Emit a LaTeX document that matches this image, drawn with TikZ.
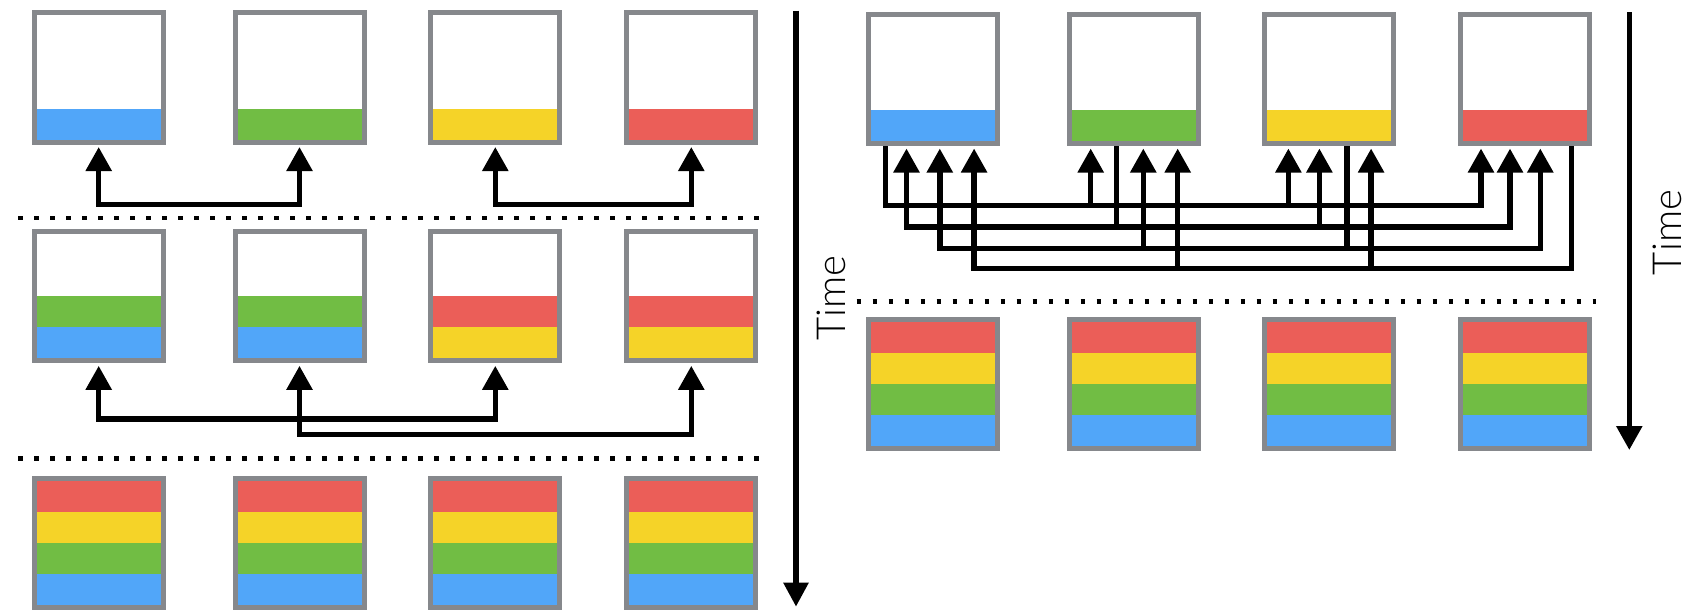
\documentclass[tikz,border=0pt]{standalone}
\usepackage{fontspec}
\usetikzlibrary{arrows.meta,calc}
\IfFontExistsTF{Lato Light}{\newfontfamily\labelfont{Lato Light}}{\newfontfamily\labelfont{Lato}}

\definecolor{boxgray}{HTML}{86888C}
\definecolor{sblue}{HTML}{51A6F9}
\definecolor{sgreen}{HTML}{71BD44}
\definecolor{syellow}{HTML}{F5D328}
\definecolor{sred}{HTML}{EB5E58}

\tikzset{
  bucket/.style={draw=boxgray, fill=white, line width=5pt, minimum width=129pt,
    minimum height=129pt, inner sep=0pt, outer sep=2.5pt},
  bus/.style={line width=5.5pt, draw=black},
  timeline/.style={line width=5.5pt, draw=black},
  dotline/.style={line width=4.5pt, draw=black, dash pattern=on 4.5pt off 11.5pt},
  timelabel/.style={rotate=90, inner sep=0pt, font=\labelfont\fontsize{40}{40}\selectfont},
}

% fill a bucket with stripes listed from the bottom up
\newcommand\fillbucket[2]{%
  \foreach \c [count=\k from 0] in {#2}{%
    \fill[\c] ($(#1.south west)+(5,-5-31*\k)$) rectangle ($(#1.south east)+(-5,-36-31*\k)$);
  }%
}
% a port on the bottom edge of a bucket
\newcommand\port[3]{\coordinate (#1) at ($(#2.south west)+(#3,0)$);}

\begin{document}
\begin{tikzpicture}[x=1pt,y=-1pt,>={Triangle[length=24pt,width=25pt]}]
\useasboundingbox (0,0) rectangle (1698,610);

% ---------------- left: pairwise exchange ----------------
\foreach \n/\x in {1/98.7,2/299.5,3/495.3,4/691.3}{
  \node[bucket] (La\n) at (\x,77.5) {};
  \node[bucket] (Lb\n) at (\x,296.3) {};
  \node[bucket] (Lc\n) at (\x,542.8) {};
}
\fillbucket{La1}{sblue}
\fillbucket{La2}{sgreen}
\fillbucket{La3}{syellow}
\fillbucket{La4}{sred}
\fillbucket{Lb1}{sblue,sgreen}
\fillbucket{Lb2}{sblue,sgreen}
\fillbucket{Lb3}{syellow,sred}
\fillbucket{Lb4}{syellow,sred}
\foreach \n in {1,...,4}{\fillbucket{Lc\n}{sblue,sgreen,syellow,sred}}

% step 1 exchanges
\draw[bus,<->] ($(La1.south)+(0,2.5)$) -- ++(0,57.4) -| ($(La2.south)+(0,2.5)$);
\draw[bus,<->] ($(La3.south)+(0,2.5)$) -- ++(0,57.4) -| ($(La4.south)+(0,2.5)$);
% step 2 exchanges
\draw[bus,<->] ($(Lb1.south)+(0,2.5)$) -- ++(0,53.2) -| ($(Lb3.south)+(0,2.5)$);
\draw[bus,<->] ($(Lb2.south)+(0,2.5)$) -- ++(0,68.8) -| ($(Lb4.south)+(0,2.5)$);

% step separators
\coordinate (dl1a) at (18,218);   \coordinate (dl1b) at (760,218);
\coordinate (dl2a) at (18,458.3); \coordinate (dl2b) at (760,458.3);
\draw[dotline] (dl1a) -- (dl1b);
\draw[dotline] (dl2a) -- (dl2b);

% time axis
\coordinate (tla) at (796,10.7);
\coordinate (tlb) at (796,606.7);
\draw[timeline,-{Triangle[length=24pt,width=24pt]}] (tla) -- (tlb);
\node[timelabel] (timeL) at (831.7,298) {Time};

% ---------------- right: all-to-all exchange ----------------
\foreach \n/\x in {1/932.5,2/1133.7,3/1328.8,4/1525.3}{
  \node[bucket] (Ra\n) at (\x,79) {};
  \node[bucket] (Rb\n) at (\x,383.7) {};
}
\fillbucket{Ra1}{sblue}
\fillbucket{Ra2}{sgreen}
\fillbucket{Ra3}{syellow}
\fillbucket{Ra4}{sred}
\foreach \n in {1,...,4}{\fillbucket{Rb\n}{sblue,sgreen,syellow,sred}}

% ports on the bottom edges (box, bus level)
\port{p11}{Ra1}{20}   \port{p12}{Ra1}{41}   \port{p13}{Ra1}{74.3} \port{p14}{Ra1}{108.6}
\port{p21}{Ra2}{24}   \port{p22}{Ra2}{50}   \port{p23}{Ra2}{76.6} \port{p24}{Ra2}{111}
\port{p31}{Ra3}{26.6} \port{p32}{Ra3}{57.6} \port{p33}{Ra3}{85}   \port{p34}{Ra3}{109.3}
\port{p41}{Ra4}{22.7} \port{p42}{Ra4}{51.7} \port{p43}{Ra4}{82}   \port{p44}{Ra4}{113.3}

% bus levels
\coordinate (h1) at (0,205.5);
\coordinate (h2) at (0,226.8);
\coordinate (h3) at (0,248.3);
\coordinate (h4) at (0,268.7);

% bus 1: from the first bucket
\draw[bus,->] (p11) -- (p11 |- h1) -| ($(p41)+(0,2.5)$);
\draw[bus,->] (p21 |- h1) -- ($(p21)+(0,2.5)$);
\draw[bus,->] (p31 |- h1) -- ($(p31)+(0,2.5)$);
% bus 2: from the second bucket
\draw[bus,<->] ($(p12)+(0,2.5)$) -- (p12 |- h2) -| ($(p42)+(0,2.5)$);
\draw[bus] (p22) -- (p22 |- h2);
\draw[bus,->] (p32 |- h2) -- ($(p32)+(0,2.5)$);
% bus 3: from the third bucket
\draw[bus,<->] ($(p13)+(0,2.5)$) -- (p13 |- h3) -| ($(p43)+(0,2.5)$);
\draw[bus,->] (p23 |- h3) -- ($(p23)+(0,2.5)$);
\draw[bus] (p33) -- (p33 |- h3);
% bus 4: from the fourth bucket
\draw[bus,->] (p44) -- (p44 |- h4) -| ($(p14)+(0,2.5)$);
\draw[bus,->] (p24 |- h4) -- ($(p24)+(0,2.5)$);
\draw[bus,->] (p34 |- h4) -- ($(p34)+(0,2.5)$);

% separator
\coordinate (dra) at (856.7,301.7);
\coordinate (drb) at (1596,301.7);
\draw[dotline] (dra) -- (drb);

% time axis
\coordinate (tra) at (1629.3,12.3);
\coordinate (trb) at (1629.3,450);
\draw[timeline,-{Triangle[length=24pt,width=25pt]}] (tra) -- (trb);
\node[timelabel] (timeR) at (1667.5,232.5) {Time};
\end{tikzpicture}
\end{document}
